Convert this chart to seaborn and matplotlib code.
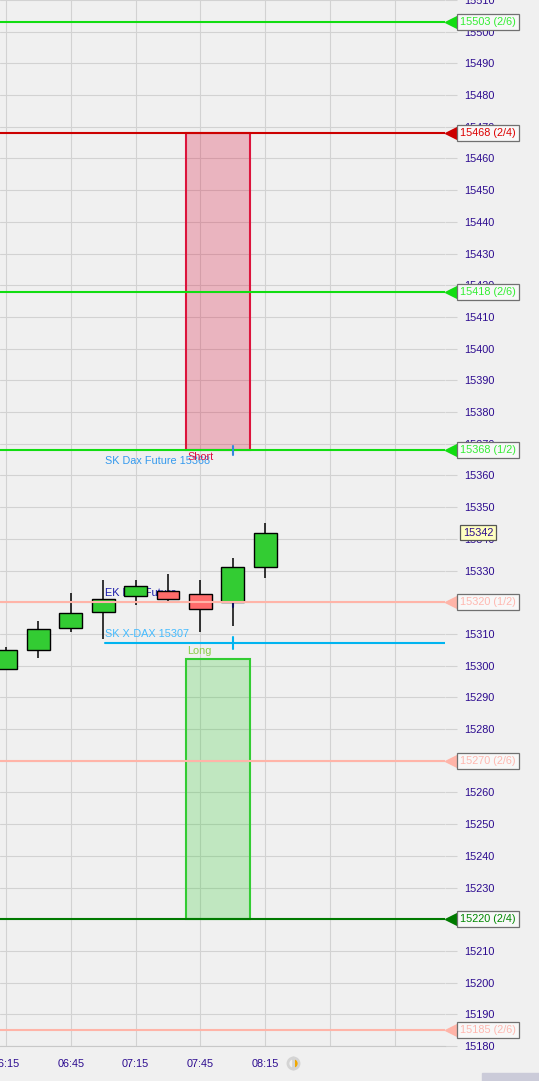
import numpy as np
import matplotlib
matplotlib.use("Agg")
import matplotlib.pyplot as plt
import matplotlib.patches as mpatches
import matplotlib.lines as mlines
import seaborn as sns

# candles, 15 min bars (minutes after 06:15)
times = ["06:15", "06:30", "06:45", "07:00", "07:15", "07:30", "07:45", "08:00", "08:15"]
bar_min = [0, 15, 30, 45, 60, 75, 90, 105, 120]
opens = [15299, 15305, 15312, 15317, 15322, 15323.5, 15322.5, 15320, 15331]
highs = [15306, 15314, 15323, 15327, 15327, 15329, 15327, 15334, 15345]
lows = [15298.5, 15302.5, 15310.5, 15308.5, 15319, 15320, 15310.5, 15312.5, 15327.5]
closes = [15305, 15311.5, 15316.5, 15321, 15325, 15321, 15318, 15331, 15342]

# horizontal levels on the right
level_values = [15503, 15468, 15418, 15368, 15320, 15270, 15220, 15185]
level_tags = ["(2/6)", "(2/4)", "(2/6)", "(1/2)", "(1/2)", "(2/6)", "(2/4)", "(2/6)"]
level_line_colors = ["#11dd11", "#cc0000", "#11dd11", "#11dd11", "#ffb4a8", "#ffb4a8", "#007a00", "#ffb4a8"]
level_text_colors = ["#33ee33", "#dd0000", "#33ee33", "#33ee33", "#ffb8b0", "#ffb8b0", "#008800", "#ffb8b0"]

last_price = 15342

# trade zones
short_zone = (83.3, 113.0, 15368, 15468)
long_zone = (83.3, 113.0, 15220, 15302)
sk_xdax = 15307

time_ticks = [0, 30, 60, 90, 120, 150, 180]
time_labels = ["06:15", "06:45", "07:15", "07:45", "08:15", "", ""]

sns.set_style("whitegrid", {"axes.facecolor": "#f0f0f0", "figure.facecolor": "#f0f0f0",
                            "grid.color": "#d2d2d2", "axes.edgecolor": "#c8c8c8"})
plt.rcParams["font.family"] = ["Liberation Sans", "DejaVu Sans"]
tick_col = "#2b0a8f"
fs = 7.8

fig = plt.figure(figsize=(5.39, 10.81), dpi=100)
ax = fig.add_axes([0, 35 / 1081, 445 / 539, 1046 / 1081])
ax.set_xlim(-2.78, 203.2)
ax.set_ylim(15180, 15510)

# grid
ax.grid(True, color="#d2d2d2", lw=0.8)
ax.set_yticks(np.arange(15180, 15511, 10))
ax.set_xticks(time_ticks)
ax.set_xticklabels(time_labels)
ax.yaxis.tick_right()
ax.tick_params(axis="y", length=8.6, width=0.8, color="#d2d2d2", pad=5,
               labelsize=fs, labelcolor=tick_col)
ax.tick_params(axis="x", length=0, pad=9.5, labelsize=fs, labelcolor=tick_col)
for s in ["left", "right", "top"]:
    ax.spines[s].set_visible(False)
ax.spines["bottom"].set_color("#c8c8c8")

# zones
x0, x1, y0, y1 = short_zone
ax.add_patch(mpatches.Rectangle((x0, y0), x1 - x0, y1 - y0, fc=(220/255, 20/255, 60/255, 0.27),
                                ec="#dc143c", lw=1.5, zorder=2))
x0, x1, y0, y1 = long_zone
ax.add_patch(mpatches.Rectangle((x0, y0), x1 - x0, y1 - y0, fc=(50/255, 205/255, 50/255, 0.25),
                                ec="#33cc33", lw=1.5, zorder=2))

# texts under candles
ax.text(45.8, 15323, "EK Dax Future", color="#1a1aaa", fontsize=fs, va="center", zorder=2.5)
ax.text(45.8, 15364.5, "SK Dax Future 15368", color="#3399ee", fontsize=fs, va="center", zorder=3)
ax.text(83.8, 15365.8, "Short", color="#dd1144", fontsize=fs, va="center", zorder=3.1)
ax.text(45.8, 15310, "SK X-DAX 15307", color="#44bbff", fontsize=fs, va="center", zorder=3)
ax.text(83.8, 15304.6, "Long", color="#88cc44", fontsize=fs, va="center", zorder=3)

# candles
body_w = 10.6
for t, o, h, l, c in zip(bar_min, opens, highs, lows, closes):
    ax.vlines(t, l, h, color="black", lw=1.1, zorder=3)
    col = "#33cc33" if c >= o else "#ff6b6b"
    ax.bar(t, abs(c - o), bottom=min(o, c), width=body_w, color=col,
           edgecolor="black", linewidth=1.0, zorder=3.5)

# level lines
for v, lc in zip(level_values, level_line_colors):
    ax.axhline(v, color=lc, lw=1.5, zorder=4)
ax.plot([45.8, 203.2], [sk_xdax, sk_xdax], color="#00b4f0", lw=1.5, zorder=4)
ax.plot([105, 105], [15305.2, 15309], color="#00b4f0", lw=1.5, zorder=4)
ax.plot([105, 105], [15366.6, 15369.2], color="#3388dd", lw=1.5, zorder=4)
ax.plot([105, 105], [15318.5, 15320], color="#101060", lw=1.5, zorder=3.8)

# right side markers and boxes
ytr = ax.get_yaxis_transform()
for v, tag, lc, tc in zip(level_values, level_tags, level_line_colors, level_text_colors):
    ax.plot([1.018], [v], marker="<", markersize=12, color=lc, transform=ytr,
            clip_on=False, zorder=5)
    ax.text(1.0337, v, f"{v} {tag}", transform=ytr, color=tc, fontsize=fs, va="center",
            ha="left", clip_on=False, zorder=6,
            bbox=dict(boxstyle="square,pad=0.28", fc="#f8f8f8", ec="#707070", lw=0.9))
ax.text(1.04, last_price, f"{last_price}", transform=ytr, color=tick_col, fontsize=fs,
        va="center", ha="left", clip_on=False, zorder=6,
        bbox=dict(boxstyle="square,pad=0.22", fc="#ffffc0", ec="#555555", lw=0.9))

# small status icon and corner block
fig.add_artist(mlines.Line2D([293 / 539], [1 - 1063 / 1081], marker="o", markersize=8,
                             fillstyle="right", markerfacecolor="#f0a800",
                             markerfacecoloralt="#f0f0f0", markeredgecolor="#d4d4d4",
                             markeredgewidth=2, transform=fig.transFigure))
fig.add_artist(mpatches.Rectangle((482 / 539, 0), 57 / 539, 8 / 1081, color="#cbcbd9",
                                  transform=fig.transFigure))

fig.savefig("out.png", dpi=100, facecolor="#f0f0f0")
